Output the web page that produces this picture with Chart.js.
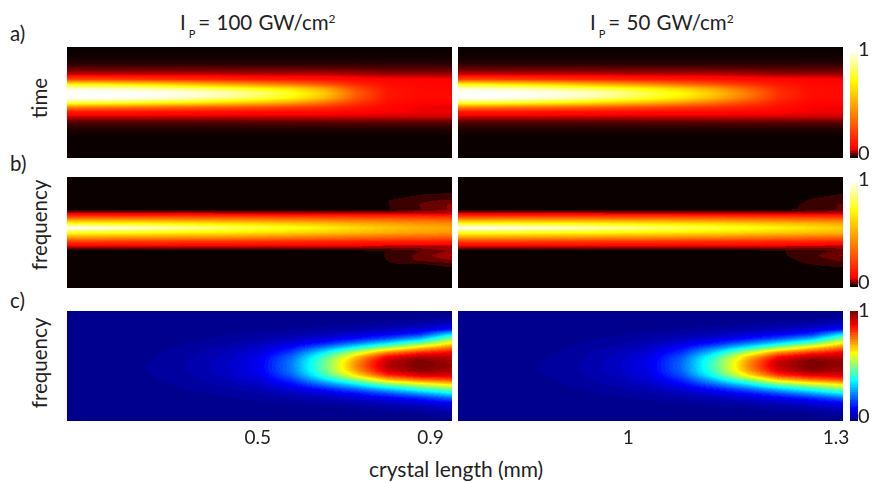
<!DOCTYPE html>
<html>
<head>
<meta charset="utf-8">
<script src="https://cdn.jsdelivr.net/npm/chart.js@4"></script>
<style>
  html, body { margin: 0; background: #fff; }
  body { position: relative; width: 874px; height: 483px; overflow: hidden; font-family: Lato, sans-serif; color: #222; }
  canvas { position: absolute; }
  .txt { position: absolute; font-size: 20.5px; line-height: 22px; white-space: nowrap; }
  .rot { transform: translate(-50%, -50%) rotate(-90deg); }
  .sub { font-size: 11px; position: relative; top: 8px; margin: 0 3px 0 3px; }
  .sup { font-size: 12px; position: relative; top: -7px; }
  .ttl { word-spacing: 1px; }
</style>
</head>
<body>
<div class="txt" style="left:10px;top:22px">a)</div>
<div class="txt" style="left:10px;top:152px">b)</div>
<div class="txt" style="left:10px;top:289px">c)</div>
<div class="txt ttl" style="left:180px;top:11px">I<span class="sub">P</span>= 100 GW/cm<span class="sup">2</span></div>
<div class="txt ttl" style="left:590px;top:11px">I<span class="sub">P</span>= 50 GW/cm<span class="sup">2</span></div>
<div class="txt rot" style="left:39px;top:98px">time</div>
<div class="txt rot" style="left:39px;top:225px">frequency</div>
<div class="txt rot" style="left:39px;top:363px">frequency</div>
<div class="txt" style="left:369px;top:458px;font-size:21px">crystal length (mm)</div>

<canvas id="timeLeftChart" width="385" height="111" style="left:67px;top:47px"></canvas>
<canvas id="timeRightChart" width="385" height="111" style="left:458px;top:47px"></canvas>
<canvas id="freqLeftChart" width="385" height="111" style="left:67px;top:177px"></canvas>
<canvas id="freqRightChart" width="385" height="111" style="left:458px;top:177px"></canvas>
<canvas id="idlerLeftChart" width="385" height="144" style="left:67px;top:311px"></canvas>
<canvas id="idlerRightChart" width="405" height="144" style="left:458px;top:311px"></canvas>
<canvas id="barTime" width="24" height="128" style="left:850px;top:40px"></canvas>
<canvas id="barFreq" width="24" height="127" style="left:850px;top:170px"></canvas>
<canvas id="barIdler" width="24" height="130" style="left:850px;top:301px"></canvas>

<script>
// crystal length at each column of the maps (mm)
const lengthsLeft = [0.058, 0.132, 0.207, 0.281, 0.355, 0.43, 0.504, 0.578, 0.653, 0.727, 0.801, 0.876, 0.95];
const lengthsRight = [0.754, 0.8, 0.847, 0.893, 0.939, 0.986, 1.032, 1.078, 1.125, 1.171, 1.217, 1.264, 1.31];
const rows = [0, 1, 2, 3, 4, 5, 6, 7, 8, 9, 10, 11, 12, 13, 14, 15, 16, 17, 18, 19, 20, 21, 22, 23, 24];

const tickLeft = [0.5, 0.9];
const tickRight = [1, 1.3];
const barTicks = [0.04, 1];
const barTickLabels = ['0', '1'];

// a) time, 100 GW/cm2 (one line per column, read off the picture)
const timeLeft = [
  [0,0,.002,.006,.015,.035,.065,.25,.7,.95,1,1,.82,.42,.14,.065,.03,.014,.006,.002,0,0,0,0,0],
  [0,0,.002,.006,.015,.035,.065,.24,.68,.94,1,1,.8,.4,.13,.065,.03,.014,.006,.002,0,0,0,0,0],
  [0,0,.002,.006,.015,.035,.065,.22,.64,.92,1,.99,.78,.38,.13,.065,.03,.014,.006,.002,0,0,0,0,0],
  [0,0,.002,.006,.015,.035,.065,.2,.6,.88,.99,.97,.74,.35,.12,.065,.03,.014,.006,.002,0,0,0,0,0],
  [0,0,.002,.006,.015,.035,.065,.18,.54,.84,.97,.93,.7,.32,.12,.065,.03,.014,.006,.002,0,0,0,0,0],
  [0,0,.002,.006,.015,.035,.06,.16,.48,.78,.92,.88,.64,.3,.11,.065,.03,.014,.006,.002,0,0,0,0,0],
  [0,0,.002,.006,.015,.035,.06,.14,.42,.72,.85,.8,.58,.27,.11,.065,.032,.015,.006,.002,0,0,0,0,0],
  [0,0,.002,.006,.015,.035,.06,.13,.36,.64,.76,.71,.5,.24,.105,.065,.032,.015,.006,.002,0,0,0,0,0],
  [0,0,.002,.006,.015,.035,.06,.115,.28,.5,.6,.55,.38,.2,.1,.065,.033,.015,.006,.002,0,0,0,0,0],
  [0,0,.002,.006,.015,.033,.055,.095,.17,.27,.32,.3,.22,.14,.09,.065,.034,.016,.006,.002,0,0,0,0,0],
  [0,0,.002,.006,.015,.03,.05,.085,.105,.125,.13,.125,.11,.09,.08,.065,.034,.016,.006,.002,0,0,0,0,0],
  [0,0,.002,.006,.015,.03,.05,.085,.095,.1,.105,.1,.085,.075,.075,.065,.034,.016,.006,.002,0,0,0,0,0],
  [0,0,.002,.006,.015,.03,.05,.08,.09,.095,.1,.1,.085,.07,.075,.065,.034,.016,.006,.002,0,0,0,0,0]
];

// a) time, 50 GW/cm2
const timeRight = [
  [0,0,.002,.006,.015,.035,.065,.25,.7,.95,1,1,.82,.42,.14,.065,.03,.014,.006,.002,0,0,0,0,0],
  [0,0,.002,.006,.015,.035,.065,.24,.67,.93,1,1,.8,.4,.13,.065,.03,.014,.006,.002,0,0,0,0,0],
  [0,0,.002,.006,.015,.035,.065,.22,.63,.91,1,.98,.77,.37,.13,.065,.03,.014,.006,.002,0,0,0,0,0],
  [0,0,.002,.006,.015,.035,.065,.2,.59,.87,.98,.95,.73,.35,.12,.065,.03,.014,.006,.002,0,0,0,0,0],
  [0,0,.002,.006,.015,.035,.065,.18,.53,.82,.95,.91,.68,.32,.12,.065,.03,.014,.006,.002,0,0,0,0,0],
  [0,0,.002,.006,.015,.035,.06,.16,.47,.76,.88,.84,.61,.29,.11,.065,.03,.014,.006,.002,0,0,0,0,0],
  [0,0,.002,.006,.015,.035,.06,.14,.41,.69,.8,.76,.55,.26,.11,.065,.032,.015,.006,.002,0,0,0,0,0],
  [0,0,.002,.006,.015,.035,.06,.13,.34,.6,.72,.67,.47,.23,.105,.065,.032,.015,.006,.002,0,0,0,0,0],
  [0,0,.002,.006,.015,.035,.06,.115,.27,.48,.58,.53,.37,.2,.1,.065,.033,.015,.006,.002,0,0,0,0,0],
  [0,0,.002,.006,.015,.033,.055,.1,.2,.33,.4,.37,.26,.16,.095,.065,.034,.016,.006,.002,0,0,0,0,0],
  [0,0,.002,.006,.015,.03,.05,.09,.13,.18,.2,.19,.15,.11,.085,.065,.034,.016,.006,.002,0,0,0,0,0],
  [0,0,.002,.006,.015,.03,.05,.085,.1,.105,.11,.105,.09,.08,.075,.065,.034,.016,.006,.002,0,0,0,0,0],
  [0,0,.002,.006,.015,.03,.05,.08,.09,.1,.1,.1,.09,.075,.075,.065,.034,.016,.006,.002,0,0,0,0,0]
];

// b) frequency, 100 GW/cm2
const freqLeft = [
  [0,0,0,0,0,0,0,.004,.09,.38,.72,1,.76,.5,.22,.07,.002,0,0,0,0,0,0,0,0],
  [0,0,0,0,0,0,0,.004,.09,.38,.71,.98,.75,.49,.22,.07,.002,0,0,0,0,0,0,0,0],
  [0,0,0,0,0,0,0,.004,.09,.37,.7,.95,.74,.48,.21,.07,.002,0,0,0,0,0,0,0,0],
  [0,0,0,0,0,0,0,.004,.09,.37,.68,.92,.72,.47,.21,.07,.002,0,0,0,0,0,0,0,0],
  [0,0,0,0,0,0,0,.004,.09,.36,.66,.88,.7,.46,.2,.07,.002,0,0,0,0,0,0,0,0],
  [0,0,0,0,0,0,0,.004,.085,.35,.63,.84,.68,.45,.2,.07,.002,0,0,0,0,0,0,0,0],
  [0,0,0,0,0,0,0,.004,.085,.34,.6,.8,.65,.43,.19,.07,.002,0,0,0,0,0,0,0,0],
  [0,0,0,0,0,0,0,.005,.08,.33,.57,.76,.62,.41,.18,.07,.003,0,0,0,0,0,0,0,0],
  [0,0,0,0,0,0,0,.006,.08,.32,.54,.7,.59,.39,.17,.07,.004,0,0,0,0,0,0,0,0],
  [0,0,0,0,.001,.002,.003,.008,.075,.31,.5,.64,.55,.37,.16,.065,.008,.006,.005,.003,.001,0,0,0,0],
  [0,0,0,0,.005,.015,.015,.014,.07,.3,.47,.58,.51,.35,.15,.06,.016,.017,.016,.014,.008,.002,0,0,0],
  [0,0,0,.01,.017,.028,.032,.03,.07,.29,.44,.54,.48,.33,.15,.06,.03,.036,.035,.012,.006,.002,0,0,0],
  [0,0,0,.012,.02,.032,.05,.05,.07,.28,.42,.5,.46,.32,.14,.06,.05,.065,.045,.022,.01,.003,0,0,0]
];

// b) frequency, 50 GW/cm2
const freqRight = [
  [0,0,0,0,0,0,0,.004,.09,.38,.72,1,.76,.5,.22,.07,.002,0,0,0,0,0,0,0,0],
  [0,0,0,0,0,0,0,.004,.09,.38,.72,.99,.76,.5,.22,.07,.002,0,0,0,0,0,0,0,0],
  [0,0,0,0,0,0,0,.004,.09,.38,.71,.97,.75,.49,.22,.07,.002,0,0,0,0,0,0,0,0],
  [0,0,0,0,0,0,0,.004,.09,.37,.7,.95,.74,.48,.21,.07,.002,0,0,0,0,0,0,0,0],
  [0,0,0,0,0,0,0,.004,.09,.37,.69,.92,.73,.47,.21,.07,.002,0,0,0,0,0,0,0,0],
  [0,0,0,0,0,0,0,.004,.085,.36,.67,.89,.71,.46,.2,.07,.002,0,0,0,0,0,0,0,0],
  [0,0,0,0,0,0,0,.004,.085,.36,.65,.86,.69,.45,.2,.07,.002,0,0,0,0,0,0,0,0],
  [0,0,0,0,0,0,0,.005,.085,.35,.63,.83,.67,.44,.19,.07,.003,0,0,0,0,0,0,0,0],
  [0,0,0,0,0,0,0,.005,.08,.34,.61,.79,.65,.43,.19,.07,.004,0,0,0,0,0,0,0,0],
  [0,0,0,0,0,0,.001,.006,.08,.33,.58,.76,.62,.41,.18,.07,.006,.004,.002,.001,0,0,0,0,0],
  [0,0,0,0,.002,.006,.008,.01,.075,.32,.55,.71,.59,.39,.17,.065,.014,.012,.008,.005,.002,0,0,0,0],
  [0,0,0,.006,.012,.017,.02,.02,.07,.31,.52,.66,.56,.37,.16,.06,.022,.026,.022,.015,.008,.002,0,0,0],
  [0,0,0,.012,.018,.025,.034,.034,.07,.3,.49,.6,.53,.35,.15,.06,.034,.05,.035,.022,.01,.003,0,0,0]
];

// c) frequency, 100 GW/cm2
const idlerLeft = [
  [0,0,0,0,0,0,0,0,0,0,0,0,0,0,0,0,0,0,0,0,0,0,0,0,0],
  [0,0,0,0,0,0,0,0,0,0,0,.002,.002,.002,0,0,0,0,0,0,0,0,0,0,0],
  [0,0,0,0,0,0,0,0,.002,.004,.006,.008,.01,.01,.008,.006,.004,.002,0,0,0,0,0,0,0],
  [0,0,0,0,0,0,.004,.008,.012,.016,.019,.021,.022,.022,.02,.017,.014,.01,.006,.003,0,0,0,0,0],
  [0,0,0,0,.004,.008,.013,.018,.024,.029,.033,.035,.035,.035,.032,.028,.023,.018,.013,.008,.004,0,0,0,0],
  [0,0,0,.004,.008,.014,.02,.028,.038,.048,.055,.06,.062,.06,.055,.047,.037,.028,.02,.014,.008,.004,0,0,0],
  [0,0,.003,.006,.012,.02,.032,.046,.064,.08,.095,.103,.105,.103,.094,.078,.062,.045,.032,.02,.012,.006,.003,0,0],
  [0,0,.004,.008,.016,.03,.05,.08,.125,.17,.215,.235,.24,.235,.21,.165,.12,.078,.05,.03,.016,.008,.004,0,0],
  [0,.003,.005,.012,.024,.045,.08,.14,.24,.35,.43,.465,.47,.46,.42,.33,.23,.14,.08,.045,.024,.012,.005,.002,0],
  [0,.004,.008,.018,.036,.07,.125,.23,.38,.55,.67,.72,.73,.71,.64,.5,.35,.22,.125,.07,.036,.018,.008,.004,0],
  [.002,.005,.012,.026,.052,.1,.19,.34,.53,.73,.87,.93,.94,.91,.83,.68,.49,.32,.19,.105,.055,.028,.013,.006,.002],
  [.003,.007,.016,.038,.075,.15,.29,.47,.66,.82,.95,1,1,.98,.9,.76,.58,.42,.27,.15,.08,.04,.018,.008,.003],
  [.004,.012,.03,.07,.13,.33,.5,.63,.76,.87,.93,.96,.97,.95,.9,.8,.64,.5,.36,.22,.12,.07,.035,.015,.006]
];

// c) frequency, 50 GW/cm2
const idlerRight = [
  [0,0,0,0,0,0,0,0,0,0,0,0,0,0,0,0,0,0,0,0,0,0,0,0,0],
  [0,0,0,0,0,0,0,0,0,0,0,.001,.002,.001,0,0,0,0,0,0,0,0,0,0,0],
  [0,0,0,0,0,0,0,0,.002,.003,.005,.007,.009,.009,.007,.005,.003,.002,0,0,0,0,0,0,0],
  [0,0,0,0,0,0,.004,.007,.011,.015,.018,.02,.021,.021,.019,.016,.013,.009,.006,.003,0,0,0,0,0],
  [0,0,0,0,.004,.008,.012,.017,.023,.028,.032,.034,.034,.034,.031,.027,.022,.017,.012,.008,.004,0,0,0,0],
  [0,0,0,.004,.008,.014,.02,.027,.037,.046,.053,.058,.06,.058,.053,.045,.036,.027,.02,.014,.008,.004,0,0,0],
  [0,0,.003,.006,.012,.02,.031,.045,.062,.078,.092,.1,.102,.1,.09,.076,.06,.044,.031,.02,.012,.006,.003,0,0],
  [0,0,.004,.008,.016,.03,.05,.078,.12,.16,.2,.22,.225,.22,.195,.155,.115,.076,.05,.03,.016,.008,.004,0,0],
  [0,.003,.005,.012,.024,.045,.08,.135,.23,.33,.41,.445,.45,.44,.4,.31,.22,.135,.08,.045,.024,.012,.005,.002,0],
  [0,.004,.008,.018,.036,.07,.125,.225,.37,.54,.66,.71,.72,.7,.63,.49,.34,.215,.125,.07,.036,.018,.008,.004,0],
  [.002,.005,.012,.026,.052,.1,.19,.335,.52,.72,.86,.92,.93,.9,.82,.67,.48,.315,.19,.105,.055,.028,.013,.006,.002],
  [.003,.007,.016,.038,.075,.15,.29,.46,.65,.81,.94,1,1,.98,.89,.75,.57,.41,.27,.15,.08,.04,.018,.008,.003],
  [.004,.012,.03,.07,.13,.33,.5,.63,.76,.87,.93,.97,.97,.95,.9,.8,.64,.5,.36,.22,.12,.07,.035,.015,.006]
];

// colour bar levels, bottom to top, one column
const barLevels = [0, .02, .04, .06, .08, .1, .15, .2, .25, .3, .35, .4, .45, .5, .55, .6, .65, .7, .75, .8, .85, .9, .95, 1];
const barGrid = [barLevels, barLevels];
const barSides = [0, 1];

// hot map, stretched like the colour bar in the picture
function hotAt(t) {
  if (t < 0.08) return [10 + 245 * t / 0.08, 0, 0];
  if (t < 0.72) return [255, 255 * (t - 0.08) / 0.64, 0];
  return [255, 255, 255 * (t - 0.72) / 0.28];
}

// panel b and the bars show the 64 steps, panel a looks smooth
function hotColor(v) {
  return hotAt(Math.min(63, Math.floor(v * 64)) / 63);
}

function hotSmooth(v) {
  return hotAt(Math.min(1, v));
}

// standard 64 level jet
function jetColor(v) {
  const t = (Math.min(63, Math.floor(v * 64)) + 1) / 64;
  const part = c => 255 * Math.max(0, Math.min(1, 1.5 - Math.abs(4 * t - c)));
  return [part(3), part(2), part(1)];
}

function findCell(list, value) {
  let i = 0;
  while (i < list.length - 2 && value > list[i + 1]) i++;
  const f = (value - list[i]) / (list[i + 1] - list[i]);
  return [i, Math.max(0, Math.min(1, f))];
}

// paints the dataset's grid inside the chart area, going through the scales
const heatPlugin = {
  id: 'heat',
  beforeDatasetsDraw(chart, args, opts) {
    const area = chart.chartArea;
    const w = Math.round(area.right - area.left);
    const h = Math.round(area.bottom - area.top);
    const ctx = chart.ctx;
    const img = ctx.createImageData(w, h);
    for (let py = 0; py < h; py++) {
      const [r, fr] = findCell(opts.ys, chart.scales.y.getValueForPixel(area.top + py + 0.5));
      for (let px = 0; px < w; px++) {
        const [c, fc] = findCell(opts.xs, chart.scales.x.getValueForPixel(area.left + px + 0.5));
        const top = opts.grid[c][r] * (1 - fc) + opts.grid[c + 1][r] * fc;
        const bottom = opts.grid[c][r + 1] * (1 - fc) + opts.grid[c + 1][r + 1] * fc;
        const rgb = opts.colors(top * (1 - fr) + bottom * fr);
        const k = (py * w + px) * 4;
        img.data[k] = rgb[0];
        img.data[k + 1] = rgb[1];
        img.data[k + 2] = rgb[2];
        img.data[k + 3] = 255;
      }
    }
    ctx.putImageData(img, Math.round(area.left), Math.round(area.top));
  }
};

// Function to create one map panel
function createMap(id, xs, grid, colors, xTicks) {
  const points = [];
  xs.forEach((x, c) => rows.forEach((y, r) => points.push({ x: x, y: y, v: grid[c][r] })));
  return new Chart(document.getElementById(id), {
    type: 'scatter',
    data: { datasets: [{ data: points, pointRadius: 0 }] },
    plugins: [heatPlugin],
    options: {
      responsive: false,
      animation: false,
      layout: { padding: { right: document.getElementById(id).width - 385 } },
      plugins: {
        legend: { display: false },
        tooltip: { enabled: false },
        heat: { xs: xs, ys: rows, grid: grid, colors: colors }
      },
      scales: {
        x: {
          type: 'linear',
          display: !!xTicks,
          min: xs[0],
          max: xs[xs.length - 1],
          grid: { display: false, drawTicks: false },
          border: { display: false },
          ticks: {
            autoSkip: false,
            maxRotation: 0,
            padding: 5,
            color: '#222',
            font: { family: 'Lato', size: 19 },
            callback: v => String(v)
          },
          afterBuildTicks: axis => { if (xTicks) axis.ticks = xTicks.map(v => ({ value: v })); },
          afterFit: axis => {
            if (xTicks) axis.height = 34;
            axis.paddingLeft = 0;
            axis.paddingRight = 0;
          }
        },
        y: { type: 'linear', display: false, reverse: true, min: rows[0], max: rows[rows.length - 1] }
      }
    }
  });
}

// Function to create one colour bar
function createBar(id, colors) {
  const points = barLevels.map(v => ({ x: 0, y: v }));
  return new Chart(document.getElementById(id), {
    type: 'scatter',
    data: { datasets: [{ data: points, pointRadius: 0 }] },
    plugins: [heatPlugin],
    options: {
      responsive: false,
      animation: false,
      layout: { padding: { top: 10, bottom: 10 } },
      plugins: {
        legend: { display: false },
        tooltip: { enabled: false },
        heat: { xs: barSides, ys: barLevels, grid: barGrid, colors: colors }
      },
      scales: {
        x: { type: 'linear', display: false, min: 0, max: 1 },
        y: {
          type: 'linear',
          position: 'right',
          min: 0,
          max: 1,
          grid: { display: false, drawTicks: false },
          border: { display: false },
          ticks: {
            autoSkip: false,
            crossAlign: 'center',
            padding: 0,
            color: '#222',
            font: { family: 'Lato', size: 20 },
            callback: (v, i) => barTickLabels[i]
          },
          afterBuildTicks: axis => { axis.ticks = barTicks.map(v => ({ value: v })); },
          afterFit: axis => { axis.width = 16; axis.paddingTop = 0; axis.paddingBottom = 0; }
        }
      }
    }
  });
}

createMap('timeLeftChart', lengthsLeft, timeLeft, hotSmooth);
createMap('timeRightChart', lengthsRight, timeRight, hotSmooth);
createMap('freqLeftChart', lengthsLeft, freqLeft, hotColor);
createMap('freqRightChart', lengthsRight, freqRight, hotColor);
createMap('idlerLeftChart', lengthsLeft, idlerLeft, jetColor, tickLeft);
createMap('idlerRightChart', lengthsRight, idlerRight, jetColor, tickRight);
createBar('barTime', hotColor);
createBar('barFreq', hotColor);
createBar('barIdler', jetColor);
</script>
</body>
</html>
